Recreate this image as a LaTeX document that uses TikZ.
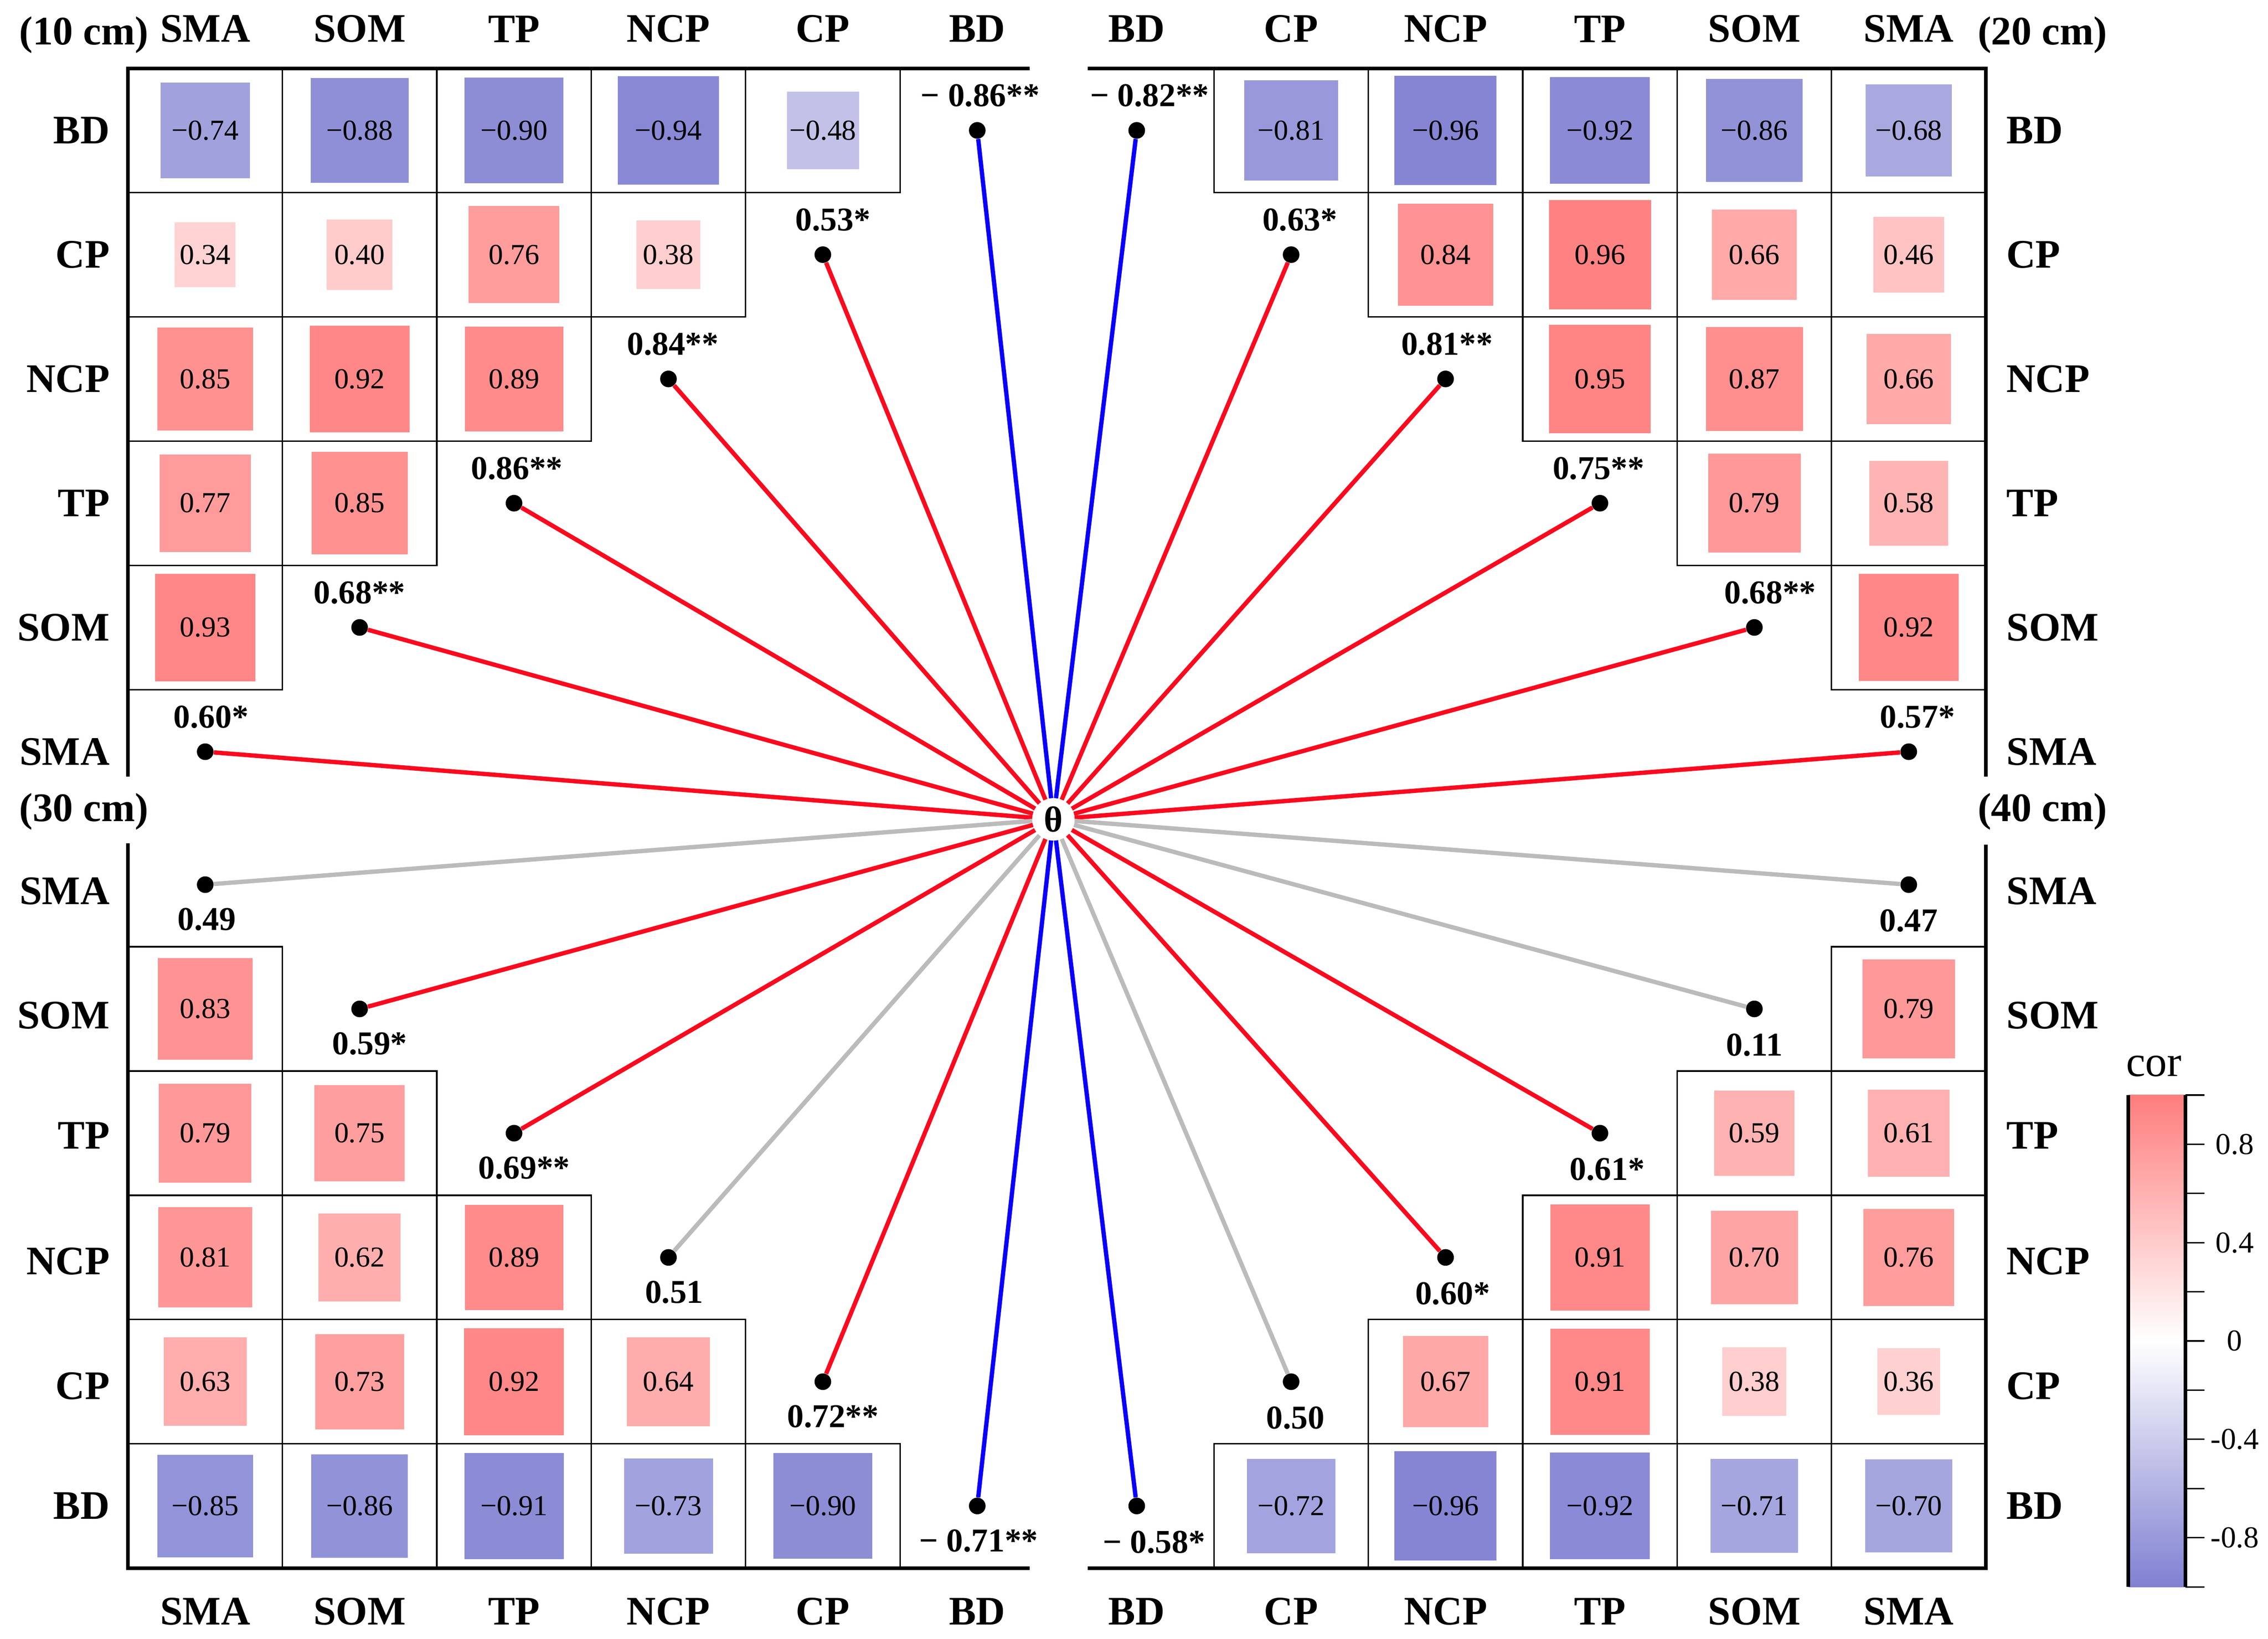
\documentclass[tikz,border=0pt]{standalone}
\usepackage{fontspec}
\setmainfont{Liberation Serif}
\usetikzlibrary{positioning}

\definecolor{corpos}{RGB}{255,125,125}
\definecolor{corneg}{RGB}{128,128,210}
\definecolor{linkred}{RGB}{250,10,30}
\definecolor{linkblue}{RGB}{10,0,250}
\definecolor{linkgray}{RGB}{187,187,187}

\newcommand{\colw}{106.75}
\newcommand{\rowh}{85.9}
\def\corabs#1#2\relax{\ifx-#1#2\else#1#2\fi}
\newcommand{\corcell}[3]{%
  \pgfmathsetmacro{\corside}{sqrt(abs(#3))}%
  \pgfmathtruncatemacro{\corpct}{round(100*abs(#3))}%
  \pgfmathtruncatemacro{\corsign}{#3<0}%
  \ifnum\corsign=1 \def\corcol{corneg}\else\def\corcol{corpos}\fi
  \draw[cellline] (#1-0.5*\colw,#2-0.5*\rowh) rectangle (#1+0.5*\colw,#2+0.5*\rowh);
  \fill[\corcol!\corpct!white] (#1-36*\corside,#2-38.5*\corside) rectangle (#1+36*\corside,#2+38.5*\corside);
  \node[cellval] at (#1,#2) {\ifnum\corsign=1 −\fi\expandafter\corabs#3\relax};
}

\begin{document}
\begin{tikzpicture}[x=1pt, y=-1pt,
    lab/.style={font=\fontsize{28}{30}\selectfont\bfseries, inner sep=0pt},
    cellval/.style={font=\fontsize{20}{22}\selectfont, inner sep=0pt},
    sig/.style={font=\fontsize{23}{25}\selectfont\bfseries, inner sep=0pt},
    ticklab/.style={font=\fontsize{21}{23}\selectfont, inner sep=0pt},
    cellline/.style={line width=1pt},
    axis/.style={line width=2.5pt},
    dot/.style={circle, fill=black, minimum size=11.5pt, inner sep=0pt},
    link/.style={line width=3pt}]
    \useasboundingbox (0,0) rectangle (1568,1133);

    \foreach \i/\j/\v in {1/1/-0.74, 1/2/-0.88, 1/3/-0.90, 1/4/-0.94, 1/5/-0.48,
        2/1/0.34, 2/2/0.40, 2/3/0.76, 2/4/0.38, 3/1/0.85, 3/2/0.92, 3/3/0.89,
        4/1/0.77, 4/2/0.85, 5/1/0.93}{
      \pgfmathsetmacro{\corx}{88.5+\colw*(\j-0.5)}
      \pgfmathsetmacro{\cory}{47.2+\rowh*(\i-0.5)}
      \corcell{\corx}{\cory}{\v}}
    \foreach \i/\j/\v in {1/2/-0.81, 1/3/-0.96, 1/4/-0.92, 1/5/-0.86, 1/6/-0.68,
        2/3/0.84, 2/4/0.96, 2/5/0.66, 2/6/0.46, 3/4/0.95, 3/5/0.87, 3/6/0.66,
        4/5/0.79, 4/6/0.58, 5/6/0.92}{
      \pgfmathsetmacro{\corx}{732.5+\colw*(\j-0.5)}
      \pgfmathsetmacro{\cory}{47.2+\rowh*(\i-0.5)}
      \corcell{\corx}{\cory}{\v}}
    \foreach \i/\j/\v in {2/1/0.83, 3/1/0.79, 3/2/0.75, 4/1/0.81, 4/2/0.62, 4/3/0.89,
        5/1/0.63, 5/2/0.73, 5/3/0.92, 5/4/0.64,
        6/1/-0.85, 6/2/-0.86, 6/3/-0.91, 6/4/-0.73, 6/5/-0.90}{
      \pgfmathsetmacro{\corx}{88.5+\colw*(\j-0.5)}
      \pgfmathsetmacro{\cory}{568.6+\rowh*(\i-0.5)}
      \corcell{\corx}{\cory}{\v}}
    \foreach \i/\j/\v in {2/6/0.79, 3/5/0.59, 3/6/0.61, 4/4/0.91, 4/5/0.70, 4/6/0.76,
        5/3/0.67, 5/4/0.91, 5/5/0.38, 5/6/0.36,
        6/2/-0.72, 6/3/-0.96, 6/4/-0.92, 6/5/-0.71, 6/6/-0.70}{
      \pgfmathsetmacro{\corx}{732.5+\colw*(\j-0.5)}
      \pgfmathsetmacro{\cory}{568.6+\rowh*(\i-0.5)}
      \corcell{\corx}{\cory}{\v}}

    \draw[axis] (712,47.2) -| (88.5,537);
    \draw[axis] (752,47.2) -| (1373,537);
    \draw[axis] (88.5,583) |- (712,1084);
    \draw[axis] (1373,584) |- (752,1084);

    \node[lab] (h10) at (58,24) {(10 cm)};
    \node[lab] (h20) at (1412,24) {(20 cm)};
    \node[lab] (h30) at (58,561) {(30 cm)};
    \node[lab] (h40) at (1412,561) {(40 cm)};

    \foreach \n [count=\j] in {SMA,SOM,TP,NCP,CP,BD}{
      \node[lab] (tlc\j) at ({88.5+\colw*(\j-0.5)},20) {\n};
      \node[lab] (blc\j) at ({88.5+\colw*(\j-0.5)},1114) {\n};}
    \foreach \n [count=\j] in {BD,CP,NCP,TP,SOM,SMA}{
      \node[lab] (trc\j) at ({732.5+\colw*(\j-0.5)},20) {\n};
      \node[lab] (brc\j) at ({732.5+\colw*(\j-0.5)},1114) {\n};
      \node[lab, anchor=east] (tlr\j) at (76,{47.2+\rowh*(\j-0.5)}) {\n};
      \node[lab, anchor=west] (trr\j) at (1387,{47.2+\rowh*(\j-0.5)}) {\n};}
    \foreach \n/\y [count=\i] in {SMA/616,SOM/702,TP/785,NCP/872,CP/958,BD/1041}{
      \node[lab, anchor=east] (blr\i) at (76,\y) {\n};
      \node[lab, anchor=west] (brr\i) at (1387,\y) {\n};}

    \node[circle, fill=white, minimum size=29pt, inner sep=0pt,
      font=\fontsize{25}{27}\selectfont\bfseries] (theta) at (728.3,566.4) {θ};

    \foreach \i/\t/\c/\dx in {1/{− 0.86**}/linkblue/2, 2/{0.53*}/linkred/7, 3/{0.84**}/linkred/3,
        4/{0.86**}/linkred/2, 5/{0.68**}/linkred/0, 6/{0.60*}/linkred/4}{
      \node[dot] (tl\i) at ({88.5+\colw*(6.5-\i)},{47.2+\rowh*(\i-0.5)}) {};
      \path (tl\i) ++(\dx,-24) node[sig] (tls\i) {\t};
      \draw[link, \c] (theta) -- (tl\i);}
    \foreach \i/\t/\c/\dx in {1/{− 0.82**}/linkblue/9, 2/{0.63*}/linkred/6, 3/{0.81**}/linkred/1,
        4/{0.75**}/linkred/-1, 5/{0.68**}/linkred/11, 6/{0.57*}/linkred/6}{
      \node[dot] (tr\i) at ({732.5+\colw*(\i-0.5)},{47.2+\rowh*(\i-0.5)}) {};
      \path (tr\i) ++(\dx,-24) node[sig] (trs\i) {\t};
      \draw[link, \c] (theta) -- (tr\i);}
    \foreach \i/\t/\c/\dx in {1/{0.49}/linkgray/1, 2/{0.59*}/linkred/7, 3/{0.69**}/linkred/7,
        4/{0.51}/linkgray/4, 5/{0.72**}/linkred/7, 6/{− 0.71**}/linkblue/1}{
      \node[dot] (bl\i) at ({88.5+\colw*(\i-0.5)},{568.6+\rowh*(\i-0.5)}) {};
      \path (bl\i) ++(\dx,24) node[sig] (bls\i) {\t};
      \draw[link, \c] (theta) -- (bl\i);}
    \foreach \i/\t/\c/\dx in {1/{0.47}/linkgray/0, 2/{0.11}/linkgray/0, 3/{0.61*}/linkred/5,
        4/{0.60*}/linkred/5, 5/{0.50}/linkgray/3, 6/{− 0.58*}/linkblue/12}{
      \node[dot] (br\i) at ({732.5+\colw*(6.5-\i)},{568.6+\rowh*(\i-0.5)}) {};
      \path (br\i) ++(\dx,25) node[sig] (brs\i) {\t};
      \draw[link, \c] (theta) -- (br\i);}

    \shade[top color=corpos, bottom color=corneg, middle color=white] (1471.5,757) rectangle (1511,1097);
    \draw[axis] (1471.5,757) -- (1471.5,1097) (1511,757) -- (1511,1097);
    \foreach \k in {0,...,10} \draw[cellline] (1511,{757+34*\k}) -- ++(13,0);
    \foreach \t [count=\k] in {0.8,0.4,0,-0.4,-0.8}
      \node[ticklab] (tick\k) at (1545,{68*\k+723}) {\t};
    \node[font=\fontsize{30}{32}\selectfont, inner sep=0pt] (cor) at (1489,737) {cor};
\end{tikzpicture}
\end{document}
